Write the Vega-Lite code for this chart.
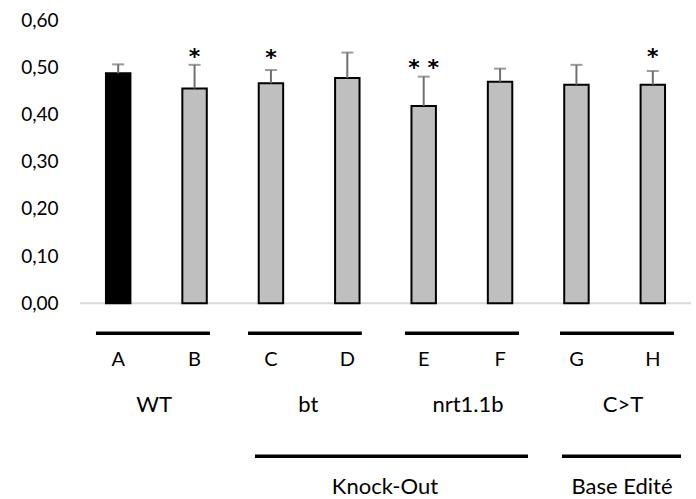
{
  "$schema": "https://vega.github.io/schema/vega-lite/v6.json",
  "autosize": {"type": "none"},
  "padding": {"left": 80, "top": 20, "right": 5, "bottom": 7},
  "width": 611,
  "height": 472,
  "background": "white",
  "config": {
    "view": {"stroke": null},
    "font": "Lato",
    "text": {"font": "Lato", "fontSize": 19, "color": "black"}
  },
  "datasets": {
    "bars": [
      {"label": "A", "value": 0.487, "err": 0.506, "star": "", "star_y": 0},
      {"label": "B", "value": 0.455, "err": 0.505, "star": "*", "star_y": 0.530},
      {"label": "C", "value": 0.466, "err": 0.494, "star": "*", "star_y": 0.528},
      {"label": "D", "value": 0.477, "err": 0.531, "star": "", "star_y": 0},
      {"label": "E", "value": 0.418, "err": 0.480, "star": "* *", "star_y": 0.506},
      {"label": "F", "value": 0.469, "err": 0.497, "star": "", "star_y": 0},
      {"label": "G", "value": 0.463, "err": 0.505, "star": "", "star_y": 0},
      {"label": "H", "value": 0.463, "err": 0.492, "star": "*", "star_y": 0.530}
    ],
    "lines": [
      {"group": "WT", "start": 0.209, "end": 1.702, "level": -0.0636},
      {"group": "bt", "start": 2.20, "end": 3.69, "level": -0.0636},
      {"group": "nrt1.1b", "start": 4.255, "end": 5.748, "level": -0.0636},
      {"group": "C>T", "start": 6.285, "end": 7.777, "level": -0.0636},
      {"group": "Knock-Out", "start": 2.291, "end": 5.866, "level": -0.324},
      {"group": "Base Edité", "start": 6.311, "end": 7.869, "level": -0.324}
    ],
    "names": [
      {"name": "WT", "pos": 0.97, "level": -0.216},
      {"name": "bt", "pos": 2.99, "level": -0.216},
      {"name": "nrt1.1b", "pos": 5.08, "level": -0.216},
      {"name": "C>T", "pos": 7.11, "level": -0.216},
      {"name": "Knock-Out", "pos": 3.993, "level": -0.39},
      {"name": "Base Edité", "pos": 7.097, "level": -0.39}
    ]
  },
  "layer": [
    {
      "data": {"name": "bars"},
      "layer": [
        {
          "data": {"values": [{"v": 0}]},
          "mark": {"type": "rule", "color": "#d9d9d9", "strokeWidth": 2},
          "encoding": {
            "y": {"field": "v", "type": "quantitative", "title": null,
              "scale": {"domain": [-0.4, 0.6], "nice": false},
              "axis": {"values": [0, 0.1, 0.2, 0.3, 0.4, 0.5, 0.6], "labelExpr": "replace(format(datum.value, '.2f'), '.', ',')", "domain": false, "ticks": false, "grid": false, "labelPadding": 22, "labelFont": "Lato", "labelFontSize": 19, "labelColor": "black", "title": null}}
          }
        },
        {
          "mark": {"type": "bar", "stroke": "black", "strokeWidth": 2},
          "encoding": {
            "x": {"field": "label", "type": "nominal", "axis": null, "scale": {"paddingInner": 0.68, "paddingOuter": 0.34}},
            "y": {"field": "value", "type": "quantitative", "title": null},
            "fill": {"condition": {"test": "datum.label === 'A'", "value": "black"}, "value": "#bfbfbf"}
          }
        },
        {
          "mark": {"type": "rule", "color": "#707070", "strokeWidth": 2},
          "encoding": {
            "x": {"field": "label", "type": "nominal", "axis": null},
            "y": {"field": "value", "type": "quantitative", "title": null},
            "y2": {"field": "err"}
          }
        },
        {
          "mark": {"type": "tick", "color": "#707070", "thickness": 2, "size": 12, "orient": "horizontal"},
          "encoding": {
            "x": {"field": "label", "type": "nominal", "axis": null},
            "y": {"field": "err", "type": "quantitative", "title": null}
          }
        },
        {
          "transform": [{"filter": "datum.star != ''"}],
          "mark": {"type": "text", "font": "DejaVu Sans", "fontSize": 22, "fontWeight": "bold", "baseline": "alphabetic", "dy": 11, "color": "black"},
          "encoding": {
            "x": {"field": "label", "type": "nominal", "axis": null},
            "y": {"field": "star_y", "type": "quantitative", "title": null},
            "text": {"field": "star"}
          }
        },
        {
          "mark": {"type": "text", "fontSize": 20, "baseline": "middle", "color": "black"},
          "encoding": {
            "x": {"field": "label", "type": "nominal", "axis": null},
            "y": {"datum": -0.1208, "type": "quantitative", "title": null},
            "text": {"field": "label"}
          }
        }
      ]
    },
    {
      "layer": [
        {
          "data": {"name": "lines"},
          "mark": {"type": "rule", "color": "black", "strokeWidth": 3.5},
          "encoding": {
            "x": {"field": "start", "type": "quantitative", "axis": null, "scale": {"domain": [0, 8], "nice": false, "zero": false}},
            "x2": {"field": "end"},
            "y": {"field": "level", "type": "quantitative", "title": null}
          }
        },
        {
          "data": {"name": "names"},
          "mark": {"type": "text", "fontSize": 22, "baseline": "middle", "color": "black"},
          "encoding": {
            "x": {"field": "pos", "type": "quantitative", "axis": null},
            "y": {"field": "level", "type": "quantitative", "title": null},
            "text": {"field": "name"}
          }
        }
      ]
    }
  ],
  "resolve": {"scale": {"x": "independent"}}
}
